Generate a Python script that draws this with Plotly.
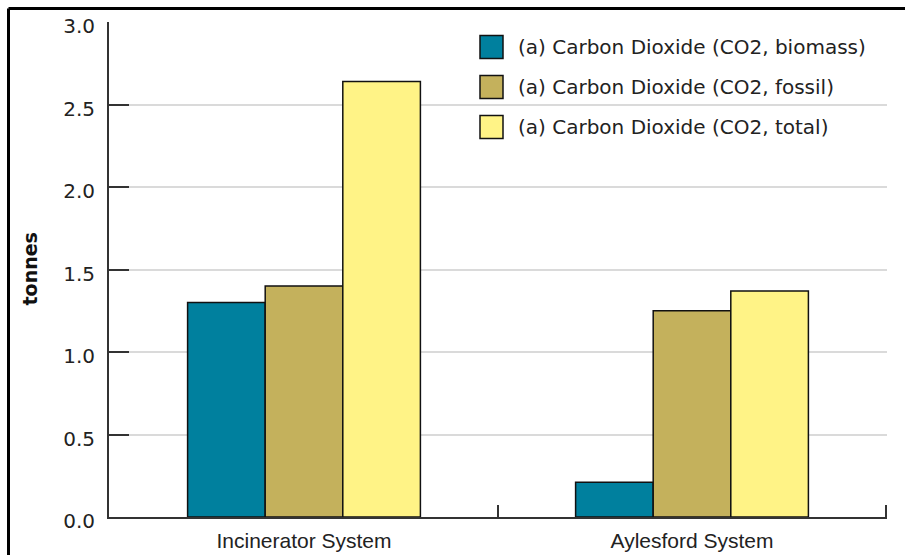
import plotly.graph_objects as go

# Emissions per system, tonnes
systems = ["Incinerator System", "Aylesford System"]
series_names = [
    "(a) Carbon Dioxide (CO2, biomass)",
    "(a) Carbon Dioxide (CO2, fossil)",
    "(a) Carbon Dioxide (CO2, total)",
]
co2_biomass = [1.30, 0.21]
co2_fossil = [1.40, 1.25]
co2_total = [2.64, 1.37]
y_ticks = [0.0, 0.5, 1.0, 1.5, 2.0, 2.5, 3.0]

colors = ["#00809e", "#c4b15c", "#fff386"]
values = [co2_biomass, co2_fossil, co2_total]

W, H = 905, 555
L, R, T, B = 109, 18, 22, 38
plot_w = W - L - R
plot_h = H - T - B


def px_x(x):
    return (x - L) / plot_w


def px_y(y):
    return (H - B - y) / plot_h


FONT = "DejaVu Sans, Verdana, sans-serif"
CAT_FONT = "Liberation Sans, Arial, sans-serif"

fig = go.Figure()
for name, vals, col in zip(series_names, values, colors):
    fig.add_trace(go.Bar(
        x=systems, y=vals, name=name,
        marker=dict(color=col, line=dict(color="#111111", width=1.5)),
        showlegend=False,
    ))

shapes = []
# frame lines along top and left edges
shapes.append(dict(type="line", xref="paper", yref="paper",
                   x0=px_x(8.5), x1=px_x(W + 5), y0=px_y(8.5), y1=px_y(8.5),
                   line=dict(color="black", width=3)))
shapes.append(dict(type="line", xref="paper", yref="paper",
                   x0=px_x(8.5), x1=px_x(8.5), y0=px_y(8.5), y1=px_y(H + 5),
                   line=dict(color="black", width=3)))
# category boundary ticks crossing the x axis
for xb in [-0.5, 0.5, 1.5]:
    shapes.append(dict(type="line", xref="x", yref="y", ysizemode="pixel",
                       yanchor=0, x0=xb, x1=xb, y0=-10, y1=12 if xb > -0.5 else 0,
                       line=dict(color="#333333", width=2)))

annotations = []
# legend drawn as swatches and labels
for i, (name, col) in enumerate(zip(series_names, colors)):
    cy = 47 + 40 * i
    shapes.append(dict(type="rect", xref="paper", yref="paper",
                       x0=px_x(480), x1=px_x(503), y0=px_y(cy - 11.5), y1=px_y(cy + 11.5),
                       fillcolor=col, line=dict(color="#111111", width=1.5)))
    annotations.append(dict(xref="paper", yref="paper", x=px_x(516), y=px_y(cy),
                            xanchor="left", yanchor="middle", showarrow=False,
                            text=name, font=dict(family=FONT, size=20, color="#222222")))

annotations.append(dict(xref="paper", yref="paper", x=px_x(29), y=0.5,
                        xanchor="center", yanchor="middle", showarrow=False,
                        textangle=-90, text="<b>tonnes</b>",
                        font=dict(family=FONT, size=19, color="#111111")))

fig.update_layout(
    width=W, height=H,
    margin=dict(l=L, r=R, t=T, b=B, pad=0),
    paper_bgcolor="white", plot_bgcolor="white",
    barmode="group", bargap=0.4, bargroupgap=0,
    shapes=shapes, annotations=annotations,
    font=dict(family=FONT, color="#222222"),
    xaxis=dict(
        automargin=False,
        showline=True, linecolor="#333333", linewidth=2,
        ticks="", showgrid=False, zeroline=False,
        tickfont=dict(family=CAT_FONT, size=21, color="#222222"),
        ticklabelstandoff=4,
    ),
    yaxis=dict(
        automargin=False,
        range=[0, 3.0], tickvals=y_ticks,
        ticktext=[f"{v:.1f}" for v in y_ticks],
        showline=True, linecolor="#333333", linewidth=2,
        ticks="inside", ticklen=20, tickwidth=2, tickcolor="#333333",
        showgrid=True, gridcolor="#dadada", gridwidth=1.5,
        zeroline=False,
        tickfont=dict(family=FONT, size=20, color="#222222"),
        ticklabelstandoff=8, ticklabelshift=4,
    ),
)

fig.write_html("out.html")
